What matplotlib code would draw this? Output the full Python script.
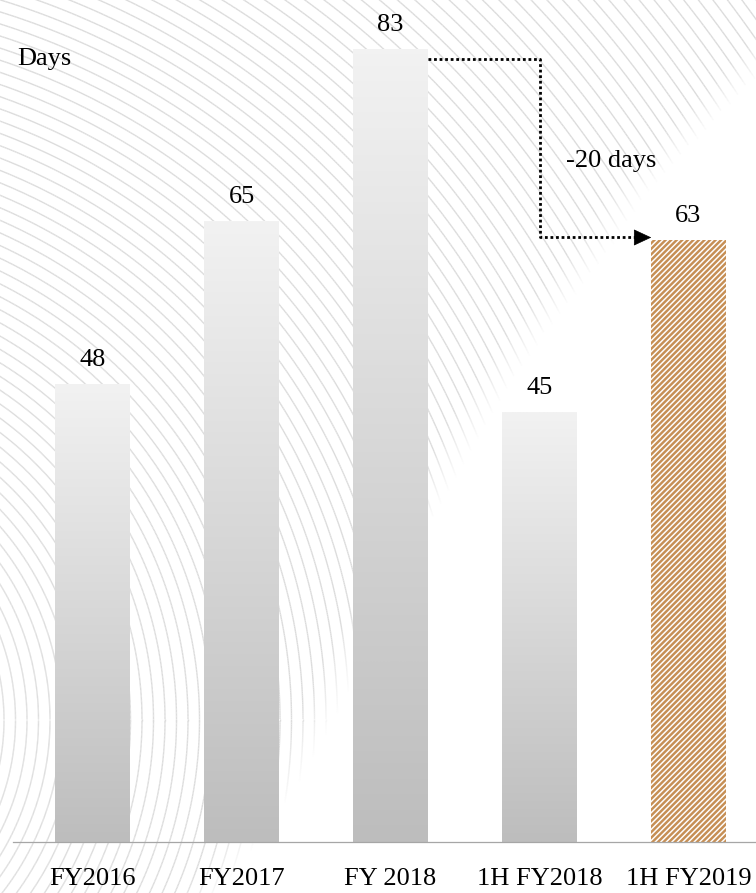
import numpy as np
import matplotlib
matplotlib.use('Agg')
import matplotlib.pyplot as plt
from matplotlib.collections import LineCollection
from matplotlib.colors import LinearSegmentedColormap, to_rgba


categories = ['FY2016', 'FY2017', 'FY 2018', '1H FY2018', '1H FY2019']
values = [48, 65, 83, 45, 63]
highlight = [False, False, False, False, True]
unit_label = 'Days'
change_label = '-20 days'

W, H, DPI = 756, 893, 100
plt.rcParams['font.family'] = ['Liberation Serif', 'DejaVu Serif']
plt.rcParams['hatch.linewidth'] = 1.75

fig = plt.figure(figsize=(W / DPI, H / DPI), dpi=DPI)

# decorative rings behind the chart (pixel coordinates, y down)
bg = fig.add_axes([0, 0, 1, 1], zorder=0)
bg.set_xlim(0, W)
bg.set_ylim(H, 0)
bg.axis('off')

cx, cy = -220, 720
edge_y = [0, 90, 190, 260, 330, 390, 445, 560, 700, 790, 893]
edge_x = [830, 745, 650, 603, 548, 507, 475, 410, 345, 295, 220]
theta = np.linspace(-np.pi / 2, np.pi / 2, 900)
segs, cols = [], []
ring = np.array(to_rgba('#dcdcdc'))
for r in np.arange(40, 1300, 11.5):
	x = cx + r * np.cos(theta)
	y = cy - r * np.sin(theta)
	xb = np.interp(y, edge_y, edge_x)
	a = np.clip((xb - x) / 40.0, 0, 1)
	inside = (x > -5) & (x < W + 5) & (y > -5) & (y < H + 5) & (a > 0)
	for k in range(len(x) - 1):
		if inside[k] and inside[k + 1]:
			segs.append([(x[k], y[k]), (x[k + 1], y[k + 1])])
			c = ring.copy()
			c[3] = (a[k] + a[k + 1]) / 2
			cols.append(c)
bg.add_collection(LineCollection(segs, colors=cols, linewidths=1.0))

# main chart
ax = fig.add_axes([13 / W, (H - 842) / H, (W - 13) / W, 842 / H], zorder=1)
ax.patch.set_alpha(0)

grey = LinearSegmentedColormap.from_list('bar', ['#bdbdbd', '#f2f2f2'])
grad = np.linspace(0, 1, 256).reshape(-1, 1)
xs = np.arange(len(values))
width = 0.5

for i, v in enumerate(values):
	if highlight[i]:
		ax.bar(i, v, width, color='white', edgecolor='#c68f55', hatch='//////', linewidth=0)
	else:
		b = ax.bar(i, v, width, color='none', linewidth=0)
		im = ax.imshow(grad, extent=[i - width / 2, i + width / 2, 0, v], cmap=grey,
			aspect='auto', origin='lower', interpolation='bilinear')
		im.set_clip_path(b[0])
	ax.annotate(str(v), (i, v), xytext=(0, 13), textcoords='offset points',
		ha='center', va='baseline', fontsize=19)

# dotted connector from FY 2018 to 1H FY2019
src, dst = 2, 4
y_top = values[src] - 1
y_low = values[dst] + 0.3
mid = 3
head = 0.11
ax.plot([src + width / 2, mid, mid, dst - width / 2 - head + 0.01],
	[y_top, y_top, y_low, y_low], color='black', lw=2.0,
	dashes=(1, 1), dash_capstyle='butt', solid_joinstyle='miter')
ax.annotate('', xy=(dst - width / 2, y_low), xytext=(dst - width / 2 - head, y_low),
	arrowprops=dict(arrowstyle='-|>,head_length=0.58,head_width=0.27',
		color='black', lw=0.5, mutation_scale=20, shrinkA=0, shrinkB=0))
ax.text(3.176, 70.7, change_label, ha='left', va='baseline', fontsize=19)

ax.set_xlim((13 - 92.5) / 149, (W - 92.5) / 149)
ax.set_ylim(0, 842 / 9.55)
ax.set_xticks(xs)
ax.set_xticklabels(categories, fontsize=19)
ax.set_yticks([])
ax.tick_params(axis='x', length=0, pad=19)
for s in ['top', 'right', 'left']:
	ax.spines[s].set_visible(False)
ax.spines['bottom'].set_color('#a6a6a6')
ax.spines['bottom'].set_linewidth(0.9)

fig.text(17 / W, 1 - 65.5 / H, unit_label, ha='left', va='baseline', fontsize=19)

fig.savefig('out.png', dpi=DPI)
plt.close(fig)
